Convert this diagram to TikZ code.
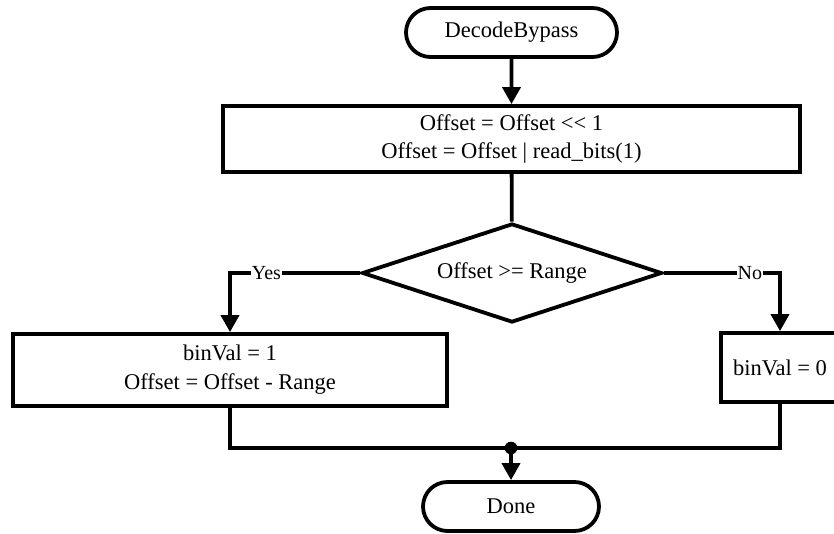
\documentclass[tikz,border=0pt]{standalone}
\usepackage{fontspec}
\setmainfont{Liberation Serif}
\usetikzlibrary{shapes.geometric,shapes.misc,arrows.meta}
\begin{document}
\begin{tikzpicture}[x=1pt,y=-1pt,
  every node/.style={font=\fontsize{22.5}{28}\selectfont},
  flow/.style={line width=3.8pt},
  arr/.style={flow,-{Triangle[length=17pt,width=18pt]}},
  term/.style={draw,flow,rounded rectangle,inner sep=0pt},
  proc/.style={draw,flow,rectangle,inner sep=0pt,align=center},
  cond/.style={draw,flow,diamond,shape aspect=3,inner sep=0pt},
  lbl/.style={fill=white,inner sep=1pt,font=\fontsize{20}{22}\selectfont}]
\fill[white] (0,0) rectangle (834,534);
\useasboundingbox (0,0) rectangle (834,534);

% terminators
\node[term,minimum width=211pt,minimum height=49pt] (start) at (511.5,32.5) {DecodeBypass};
\node[term,minimum width=176pt,minimum height=49pt] (done) at (511,506.5) {Done};

% processing steps
\node[proc,minimum width=577pt,minimum height=66pt] (shift) at (511.5,139)
  {Offset = Offset {<}{<} 1\\Offset = Offset | read\_bits(1)};
\node[proc,minimum width=434pt,minimum height=72pt,font=\fontsize{22.5}{29}\selectfont] (one) at (230,370)
  {binVal = 1\\Offset = Offset - Range};
\node[proc,minimum width=118pt,minimum height=69pt] (zero) at (780,367.5)
  {binVal = 0};

% decision
\node[cond,minimum width=300pt,minimum height=99pt] (test) at (512,273) {Offset {>}= Range};

% junction of the two branches
\coordinate (join) at (511,448);

% connectors
\draw[arr] (start) -- (shift);
\draw[flow] (shift) -- (test);
\draw[arr] (test.west) -| node[lbl,pos=0.36] {Yes} (one.north);
\draw[arr] (test.east) -| node[lbl,pos=0.37] {No} (zero.north);
\draw[flow] (one.south) |- (join);
\draw[flow] (zero.south) |- (join);
\fill (join) circle (6.3pt);
\draw[arr] (join) -- (done);
\end{tikzpicture}
\end{document}
